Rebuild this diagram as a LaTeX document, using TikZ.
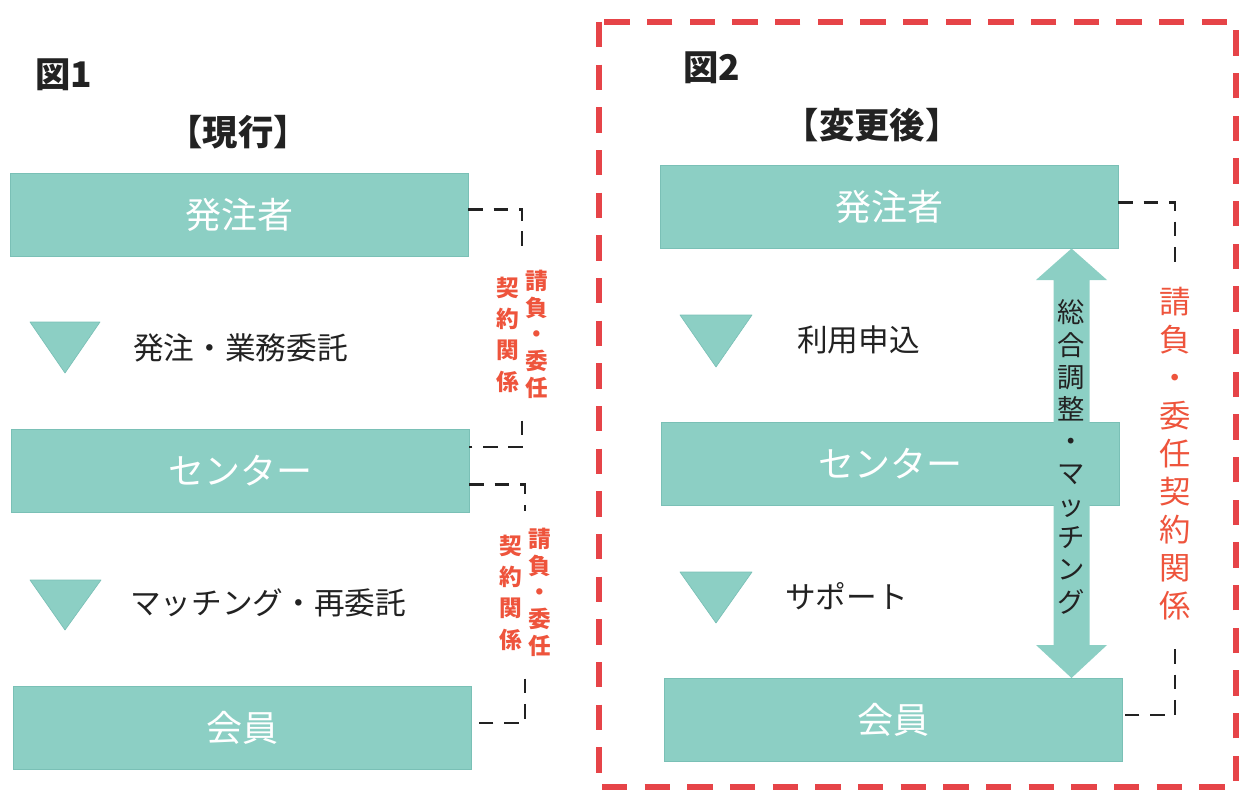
\documentclass[tikz,border=0pt]{standalone}
\usepackage{fontspec}
\setmainfont{Noto Sans CJK JP}
\usetikzlibrary{calc}
\definecolor{boxteal}{RGB}{140,207,196}
\definecolor{boxedge}{RGB}{122,192,182}
\definecolor{lblred}{RGB}{238,84,60}
\definecolor{framered}{RGB}{230,68,72}
\definecolor{ink}{RGB}{34,34,34}
\newcommand\colstack[2]{{\renewcommand\arraystretch{#1}\begin{tabular}[c]{@{}c@{}}#2\end{tabular}}}
\begin{document}
\begin{tikzpicture}[x=0.75pt,y=-0.75pt,
  box/.style={fill=boxteal, draw=boxedge, line width=0.5pt, minimum width=343.5pt, minimum height=62.5pt, text=white, font=\fontsize{27}{30}\selectfont, inner sep=0pt},
  tri/.style={fill=boxteal, draw=boxedge, line width=0.5pt, line join=round},
  lbl/.style={anchor=west, font=\fontsize{23}{26}\selectfont, text=ink, inner sep=0pt},
  title/.style={font=\fontsize{26.5}{30}\selectfont\bfseries, text=ink, inner sep=0pt},
  bracket/.style={draw=ink, line width=2.2pt, dash pattern=on 11pt off 8pt},
  smallred/.style={text=lblred, fill=white, inner xsep=2pt, inner ysep=12pt, font=\fontsize{17}{19.5}\selectfont\bfseries},
  bigred/.style={text=lblred, fill=white, inner xsep=2pt, inner ysep=15pt, font=\fontsize{23.5}{28.5}\selectfont},
  frame/.style={draw=framered, line width=4.5pt, dash pattern=on 19pt off 13pt},
  ]
\useasboundingbox (0,0) rectangle (1241,792);

% ---------- Figure 1 ----------
\node[title, anchor=west] (fig1) at (35,75) {図1};
\node[title] (cur) at (238,132) {【現行】};

\node[box] (L1) at (239,215) {発注者};
\node[box] (L2) at (240,470.5) {センター};
\node[box] (L3) at (242,728) {会員};

\fill[tri] (30,322) -- (100,322) -- (65,373) -- cycle;
\node[lbl] (t1) at (133,348) {発注・業務委託};
\fill[tri] (30,580) -- (101,580) -- (65,630) -- cycle;
\node[lbl] (t2) at (130,603) {マッチング・再委託};

\node[smallred] (lab1) at (522,337) {\colstack{1.2}{契\\約\\関\\係}\hspace{5pt}\colstack{1}{請\\負\\・\\委\\任}};
\node[smallred] (lab2) at (525,595) {\colstack{1.2}{契\\約\\関\\係}\hspace{5pt}\colstack{1}{請\\負\\・\\委\\任}};

\draw[bracket] ($(L1.north east)!0.43!(L1.south east)$) -| (lab1.north);
\draw[bracket] (lab1.south) |- ($(L2.north east)!0.22!(L2.south east)$);
\draw[bracket] ($(L2.north east)!0.67!(L2.south east)$) -| (lab2.north);
\draw[bracket] (lab2.south) |- ($(L3.north east)!0.44!(L3.south east)$);

% ---------- Figure 2 ----------
\draw[frame] (599,22) rectangle (1236,787);
\node[title, anchor=west] (fig2) at (683,68) {図2};
\node[title] (new) at (872,125) {【変更後】};

\node[box] (R1) at (889,206.5) {発注者};
\node[box] (R2) at (890,463.5) {センター};
\node[box] (R3) at (893.5,720) {会員};

\fill[tri] (680,315) -- (752,315) -- (716,367) -- cycle;
\node[lbl] (t3) at (797,340) {利用申込};
\fill[tri] (680,572) -- (752,572) -- (716,623) -- cycle;
\node[lbl] (t4) at (785,596) {サポート};

% double arrow between R1 and R3
\fill[boxteal] (R1.south -| 1071.5,0) -- (1107,280) -- (1089.5,280) -- (1089.5,645) -- (1107,645)
  -- (R3.north -| 1071.5,0) -- (1036,645) -- (1053.5,645) -- (1053.5,280) -- (1036,280) -- cycle;
\node[font=\fontsize{20.5}{24}\selectfont, text=ink, inner sep=0pt] (arrowtxt) at (1071.5,461)
  {\colstack{1}{総\\合\\調\\整\\・\\マ\\ッ\\チ\\ン\\グ}};

\node[bigred] (lab3) at (1175,458) {\colstack{1}{請\\負\\・\\委\\任\\契\\約\\関\\係}};
\draw[bracket] ($(R1.north east)!0.45!(R1.south east)$) -| (lab3.north);
\draw[bracket] (lab3.south) |- ($(R3.north east)!0.44!(R3.south east)$);
\end{tikzpicture}
\end{document}
